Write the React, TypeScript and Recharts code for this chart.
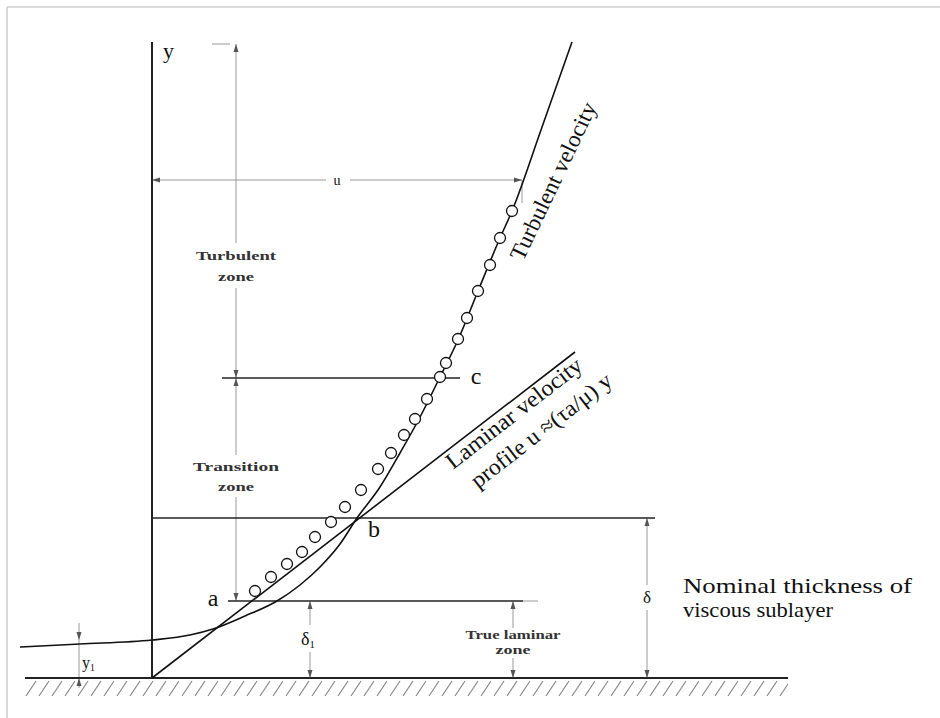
import React from 'react';
import {
  ComposedChart,
  XAxis,
  YAxis,
  Line,
  Scatter,
  ReferenceLine,
  ReferenceArea
} from 'recharts';

// coordinates: u = velocity (to the right of the wall axis), y = height above the wall

const turbulentProfile = [
  { u: -132, y: 31 }, { u: -72, y: 34 }, { u: 0, y: 38 }, { u: 38, y: 43 },
  { u: 61, y: 49 }, { u: 93, y: 62 }, { u: 125, y: 77 }, { u: 148, y: 93 },
  { u: 168, y: 111 }, { u: 188, y: 134 }, { u: 205, y: 160 }, { u: 228, y: 191 },
  { u: 248, y: 225 }, { u: 267, y: 259 }, { u: 288, y: 301 }, { u: 306, y: 338 },
  { u: 326, y: 387 }, { u: 348, y: 440 }, { u: 360, y: 467 }, { u: 389, y: 548 },
  { u: 420, y: 636 }
];

const laminarProfile = [{ u: 0, y: 0 }, { u: 423, y: 326 }];

const measuredPoints = [
  { u: 103, y: 87 }, { u: 119, y: 101 }, { u: 135, y: 114 }, { u: 150, y: 126 },
  { u: 163, y: 141 }, { u: 179, y: 156 }, { u: 193, y: 171 }, { u: 209, y: 188 },
  { u: 226, y: 209 }, { u: 239, y: 225 }, { u: 252, y: 243 }, { u: 263, y: 259 },
  { u: 275, y: 279 }, { u: 288, y: 301 }, { u: 294, y: 315 }, { u: 306, y: 339 },
  { u: 315, y: 360 }, { u: 326, y: 387 }, { u: 338, y: 413 }, { u: 348, y: 440 },
  { u: 360, y: 467 }
];

// dark construction lines
const solidLines = [
  { x1: 0, y1: 0, x2: 0, y2: 636, w: 2 },
  { x1: -127, y1: 0, x2: 636, y2: 0, w: 2 },
  { x1: 76, y1: 77, x2: 371, y2: 77, w: 1.6 },
  { x1: 0, y1: 160, x2: 503, y2: 160, w: 1.4 },
  { x1: 70, y1: 300, x2: 308, y2: 300, w: 1.6 }
];

// thin grey dimension lines
const dimLines = [
  { x1: 371, y1: 77, x2: 386, y2: 77 },
  { x1: 84, y1: 435, x2: 84, y2: 634 },
  { x1: 84, y1: 223, x2: 84, y2: 390 },
  { x1: 84, y1: 77, x2: 84, y2: 181 },
  { x1: 60, y1: 634, x2: 78, y2: 634 },
  { x1: 0, y1: 498, x2: 174, y2: 498 },
  { x1: 198, y1: 498, x2: 370, y2: 498 },
  { x1: 370, y1: 475, x2: 370, y2: 498 },
  { x1: 158, y1: 0, x2: 158, y2: 26 },
  { x1: 158, y1: 53, x2: 158, y2: 77 },
  { x1: 361, y1: 0, x2: 361, y2: 20 },
  { x1: 361, y1: 50, x2: 361, y2: 77 },
  { x1: 495, y1: 0, x2: 495, y2: 68 },
  { x1: 495, y1: 93, x2: 495, y2: 160 },
  { x1: -73, y1: -10, x2: -73, y2: 55 }
];

// light picture frame
const frameLines = [
  { x1: -145, y1: 671, x2: 788, y2: 671 },
  { x1: -145, y1: -40, x2: -145, y2: 671 }
];

const arrowHeads = [
  { u: 84, y: 634, dir: 'up' }, { u: 84, y: 300, dir: 'down' }, { u: 84, y: 300, dir: 'up' },
  { u: 84, y: 77, dir: 'down' }, { u: 0, y: 498, dir: 'left' }, { u: 370, y: 498, dir: 'right' },
  { u: 158, y: 77, dir: 'up' }, { u: 158, y: 0, dir: 'down' },
  { u: 361, y: 77, dir: 'up' }, { u: 361, y: 0, dir: 'down' },
  { u: 495, y: 160, dir: 'up' }, { u: 495, y: 0, dir: 'down' },
  { u: -73, y: 38, dir: 'down' }, { u: -73, y: 0, dir: 'up' }
];

const labels = [
  { u: 11, y: 620, text: 'y', size: 22, anchor: 'start' },
  { u: 185, y: 493, text: 'u', size: 14 },
  { u: 84, y: 418, text: 'Turbulent', size: 13, bold: true, len: 80 },
  { u: 84, y: 397, text: 'zone', size: 13, bold: true, len: 36 },
  { u: 84, y: 207, text: 'Transition', size: 13, bold: true, len: 86 },
  { u: 84, y: 187, text: 'zone', size: 13, bold: true, len: 36 },
  { u: 61, y: 72, text: 'a', size: 24 },
  { u: 222, y: 141, text: 'b', size: 24 },
  { u: 324, y: 294, text: 'c', size: 24 },
  { u: 156, y: 33, text: 'δ', sub: '1', size: 18 },
  { u: 495, y: 75, text: 'δ', size: 17 },
  { u: 361, y: 39, text: 'True laminar', size: 13, bold: true, len: 95 },
  { u: 361, y: 24, text: 'zone', size: 13, bold: true, len: 35 },
  { u: 531, y: 85, text: 'Nominal thickness of', size: 22, anchor: 'start', len: 229 },
  { u: 531, y: 61, text: 'viscous sublayer', size: 22, anchor: 'start', len: 150 },
  { u: -70, y: 10, text: 'y', sub: '1', size: 16, anchor: 'start' },
  { u: 371, y: 416, text: 'Turbulent velocity', size: 23, anchor: 'start', angle: -64.5, len: 172 },
  { u: 301, y: 208, text: 'Laminar velocity', size: 23, anchor: 'start', angle: -37.8, len: 166 },
  { u: 326, y: 189, text: 'profile u ≈(τa/μ) y', size: 23, anchor: 'start', angle: -37.8, len: 172 }
];

const FONT = '"Liberation Serif", "Times New Roman", serif';

const Circle = (p: any) => (
  <circle cx={p.cx} cy={p.cy} r={5.5} fill="#fff" stroke="#111" strokeWidth={1.3} />
);

const Arrow = (p: any) => {
  const { cx, cy } = p;
  const L = 8;
  const W = 2.5;
  let pts = '';
  switch (p.payload.dir) {
    case 'up': pts = `${cx},${cy} ${cx - W},${cy + L} ${cx + W},${cy + L}`; break;
    case 'down': pts = `${cx},${cy} ${cx - W},${cy - L} ${cx + W},${cy - L}`; break;
    case 'left': pts = `${cx},${cy} ${cx + L},${cy - W} ${cx + L},${cy + W}`; break;
    default: pts = `${cx},${cy} ${cx - L},${cy - W} ${cx - L},${cy + W}`;
  }
  return <polygon points={pts} fill="#555" />;
};

const TextLabel = (p: any) => {
  const d = p.payload;
  const rot = d.angle ? `rotate(${d.angle} ${p.cx} ${p.cy})` : undefined;
  return (
    <text
      x={p.cx}
      y={p.cy}
      fontSize={d.size}
      fontFamily={FONT}
      fontWeight={d.bold ? 'bold' : 'normal'}
      fill={d.bold ? '#333' : '#111'}
      textAnchor={d.anchor || 'middle'}
      transform={rot}
      textLength={d.len}
      lengthAdjust={d.len ? 'spacingAndGlyphs' : undefined}
    >
      {d.text}
      {d.sub && <tspan fontSize={d.size * 0.6} dy={3}>{d.sub}</tspan>}
    </text>
  );
};

const seg = (s: any) => [{ x: s.x1, y: s.y1 }, { x: s.x2, y: s.y2 }];

export default function App() {
  return (
    <div style={{ position: 'absolute', left: 0, top: 0, width: 940, height: 718, background: '#fff' }}>
      <ComposedChart width={940} height={718} margin={{ top: 0, right: 0, bottom: 0, left: 0 }}>
        <defs>
          <pattern id="hatch" patternUnits="userSpaceOnUse" x={25} y={680} width={13} height={17}>
            <line x1={1} y1={16} x2={11} y2={1} stroke="#888" strokeWidth={1.2} />
          </pattern>
        </defs>
        <XAxis type="number" dataKey="u" domain={[-152, 788]} allowDataOverflow hide />
        <YAxis type="number" dataKey="y" domain={[-40, 678]} allowDataOverflow hide />
        <ReferenceArea x1={-127} x2={636} y1={-19} y2={-2} fill="url(#hatch)" fillOpacity={1} stroke="none" />
        {frameLines.map((s, i) => (
          <ReferenceLine key={'f' + i} segment={seg(s)} stroke="#ccc" strokeWidth={1.5} />
        ))}
        {dimLines.map((s, i) => (
          <ReferenceLine key={'d' + i} segment={seg(s)} stroke="#999" strokeWidth={1} />
        ))}
        {solidLines.map((s, i) => (
          <ReferenceLine key={'s' + i} segment={seg(s)} stroke="#222" strokeWidth={s.w} />
        ))}
        <Line data={laminarProfile} dataKey="y" type="linear" stroke="#111" strokeWidth={1.6} dot={false} activeDot={false} isAnimationActive={false} />
        <Line data={turbulentProfile} dataKey="y" type="monotone" stroke="#111" strokeWidth={1.6} dot={false} activeDot={false} isAnimationActive={false} />
        <Scatter data={measuredPoints} shape={Circle} isAnimationActive={false} />
        <Scatter data={arrowHeads} shape={Arrow} isAnimationActive={false} />
        <Scatter data={labels} shape={TextLabel} isAnimationActive={false} />
      </ComposedChart>
    </div>
  );
}
